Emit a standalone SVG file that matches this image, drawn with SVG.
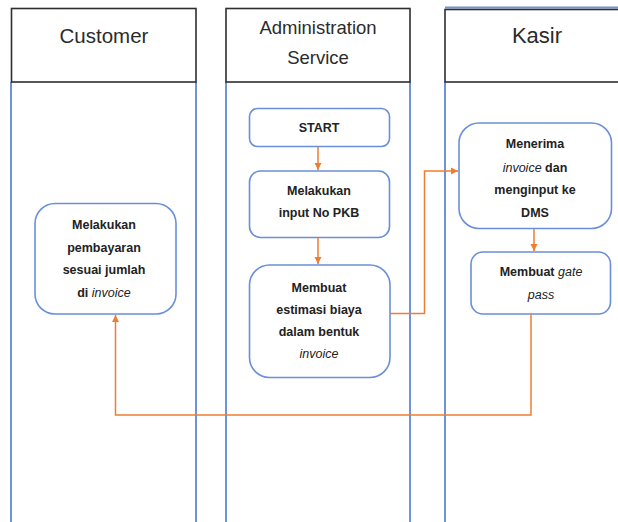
<svg xmlns="http://www.w3.org/2000/svg" width="618" height="522" viewBox="0 0 618 522">
  <style>
    .lane { stroke: #6f93d8; stroke-width: 2; fill: none; }
    .head { fill: #ffffff; stroke: #2e2e2e; stroke-width: 1.6; }
    .htxt { font-family: "Liberation Sans", Arial, sans-serif; fill: #2b2b2b; text-anchor: middle; }
    .box { fill: #ffffff; stroke: #6a8fd8; stroke-width: 1.6; }
    .ntxt { font-family: "Liberation Sans", Arial, sans-serif; font-size: 12.5px; font-weight: bold; fill: #222222; text-anchor: middle; }
    .it { font-style: italic; font-weight: normal; }
    .flow { stroke: #ed7d31; stroke-width: 1.5; fill: none; }
  </style>
  <defs>
    <marker id="arrow" markerWidth="8" markerHeight="8" refX="7" refY="4" orient="auto" markerUnits="userSpaceOnUse">
      <path d="M0,0.5 L7,4 L0,7.5 Z" fill="#ed7d31"/>
    </marker>
  </defs>

  <rect width="618" height="522" fill="#ffffff"/>

  <!-- swimlane borders -->
  <g id="lanes">
    <line class="lane" x1="11" y1="82" x2="11" y2="522"/>
    <line class="lane" x1="196" y1="82" x2="196" y2="522"/>
    <line class="lane" x1="226" y1="82" x2="226" y2="522"/>
    <line class="lane" x1="410" y1="82" x2="410" y2="522"/>
    <line class="lane" x1="445" y1="82" x2="445" y2="522"/>
    <line class="lane" x1="445" y1="7.5" x2="618" y2="7.5"/>
  </g>

  <!-- lane headers -->
  <g id="lane-customer">
    <rect class="head" x="11.5" y="8.5" width="184.5" height="73.5"/>
    <text class="htxt" x="104" y="43" font-size="20.5">Customer</text>
  </g>
  <g id="lane-admin">
    <rect class="head" x="226" y="8.5" width="184" height="73.5"/>
    <text class="htxt" x="318" y="34" font-size="18.5">Administration</text>
    <text class="htxt" x="318" y="64" font-size="18.5">Service</text>
  </g>
  <g id="lane-kasir">
    <rect class="head" x="445" y="9.5" width="180" height="72.5"/>
    <text class="htxt" x="537" y="43" font-size="22">Kasir</text>
  </g>

  <!-- process steps -->
  <g id="start">
    <rect class="box" x="249.5" y="108.5" width="140" height="38" rx="8"/>
    <text class="ntxt" x="319" y="131.5">START</text>
  </g>
  <g id="input-pkb">
    <rect class="box" x="249.5" y="171" width="140" height="66.5" rx="11"/>
    <text class="ntxt" x="319" y="195">Melakukan</text>
    <text class="ntxt" x="319" y="217">input No PKB</text>
  </g>
  <g id="estimasi">
    <rect class="box" x="249.5" y="265" width="140.5" height="112.5" rx="20"/>
    <text class="ntxt" x="319" y="292">Membuat</text>
    <text class="ntxt" x="319" y="314">estimasi biaya</text>
    <text class="ntxt" x="319" y="336">dalam bentuk</text>
    <text class="ntxt" x="319" y="358"><tspan class="it">invoice</tspan></text>
  </g>
  <g id="terima-invoice">
    <rect class="box" x="459" y="123" width="152.5" height="105.5" rx="20"/>
    <text class="ntxt" x="535" y="148">Menerima</text>
    <text class="ntxt" x="535" y="171.5"><tspan class="it">invoice</tspan> dan</text>
    <text class="ntxt" x="535" y="194">menginput ke</text>
    <text class="ntxt" x="535" y="217">DMS</text>
  </g>
  <g id="gate-pass">
    <rect class="box" x="471" y="252" width="139.5" height="62" rx="12"/>
    <text class="ntxt" x="541" y="276">Membuat <tspan class="it">gate</tspan></text>
    <text class="ntxt" x="541" y="298.5"><tspan class="it">pass</tspan></text>
  </g>
  <g id="pembayaran">
    <rect class="box" x="35" y="203.5" width="141" height="110.5" rx="20"/>
    <text class="ntxt" x="104" y="228.5">Melakukan</text>
    <text class="ntxt" x="104" y="251.5">pembayaran</text>
    <text class="ntxt" x="104" y="274">sesuai jumlah</text>
    <text class="ntxt" x="104" y="297">di <tspan class="it">invoice</tspan></text>
  </g>

  <!-- connectors -->
  <g id="connectors">
    <line class="flow" x1="318" y1="147" x2="318" y2="170" marker-end="url(#arrow)"/>
    <line class="flow" x1="318" y1="238" x2="318" y2="264" marker-end="url(#arrow)"/>
    <polyline class="flow" points="390,313.5 424.5,313.5 424.5,171 458,171" marker-end="url(#arrow)"/>
    <line class="flow" x1="534" y1="229" x2="534" y2="251" marker-end="url(#arrow)"/>
    <polyline class="flow" points="531,314 531,415 115.5,415 115.5,315" marker-end="url(#arrow)"/>
  </g>
</svg>
